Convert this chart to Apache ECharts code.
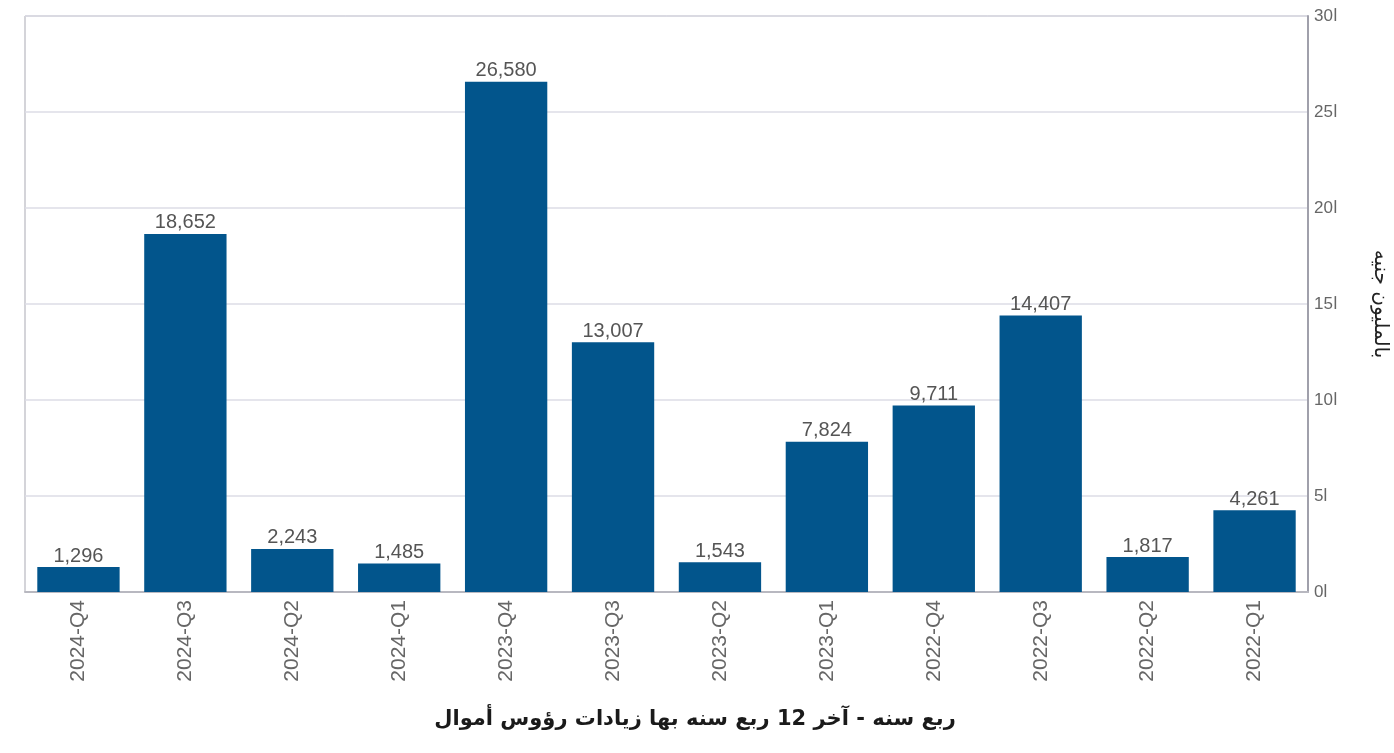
<!DOCTYPE html>
<html><head><meta charset="utf-8">
<script src="https://cdn.jsdelivr.net/npm/echarts@6/dist/echarts.min.js"></script>
<style>html,body{margin:0;padding:0;background:#fff}#c{width:1394px;height:753px}</style>
</head><body><div id="c"></div>
<script>
const categories = ['2024-Q4','2024-Q3','2024-Q2','2024-Q1','2023-Q4','2023-Q3','2023-Q2','2023-Q1','2022-Q4','2022-Q3','2022-Q2','2022-Q1'];
const values = [1296, 18652, 2243, 1485, 26580, 13007, 1543, 7824, 9711, 14407, 1817, 4261];
const yTicks = [0, 5000, 10000, 15000, 20000, 25000, 30000];
const xTitle = 'ربع سنه - آخر 12 ربع سنه بها زيادات رؤوس أموال';
const yTitle = 'بالمليون جنيه';

const chart = echarts.init(document.getElementById('c'));
chart.setOption({
  animation: false,
  title: {
    text: xTitle, left: 690, top: 704, textAlign: 'center',
    textStyle: {fontFamily: 'DejaVu Sans', fontSize: 21, fontWeight: 'bold', color: '#1a1a1a'}
  },
  grid: {left: 25, right: 86, top: 16, bottom: 161, show: true, borderColor: '#a9a9b3', borderWidth: 1,
    containLabel: false, outerBoundsMode: 'none'},
  xAxis: {
    type: 'category', data: categories,
    axisLine: {lineStyle: {color: '#b8b8c0', width: 2}},
    axisTick: {show: false},
    axisLabel: {rotate: 90, color: '#666', fontSize: 21, fontFamily: 'Liberation Sans', margin: 8}
  },
  yAxis: {
    type: 'value', position: 'right', min: yTicks[0], max: yTicks[yTicks.length-1], interval: 5000,
    name: yTitle, nameLocation: 'middle', nameRotate: -90, nameGap: 62,
    nameTextStyle: {fontFamily: 'DejaVu Sans', fontSize: 20, color: '#222'},
    axisLine: {show: true, lineStyle: {color: '#a0a0ab', width: 2}},
    axisTick: {show: false},
    splitLine: {lineStyle: {color: '#dcdde6', width: 1.5}},
    axisLabel: {color: '#666', fontSize: 17, fontFamily: 'Liberation Sans', margin: 6,
      formatter: v => (v/1000) + 'ا'}
  },
  series: [{
    type: 'bar', data: values, barCategoryGap: '23%',
    itemStyle: {color: '#02558c'},
    label: {show: true, position: 'top', distance: 1, color: '#555', fontSize: 20, fontFamily: 'Liberation Sans',
      formatter: p => p.value.toLocaleString('en-US')}
  }]
});
</script></body></html>
